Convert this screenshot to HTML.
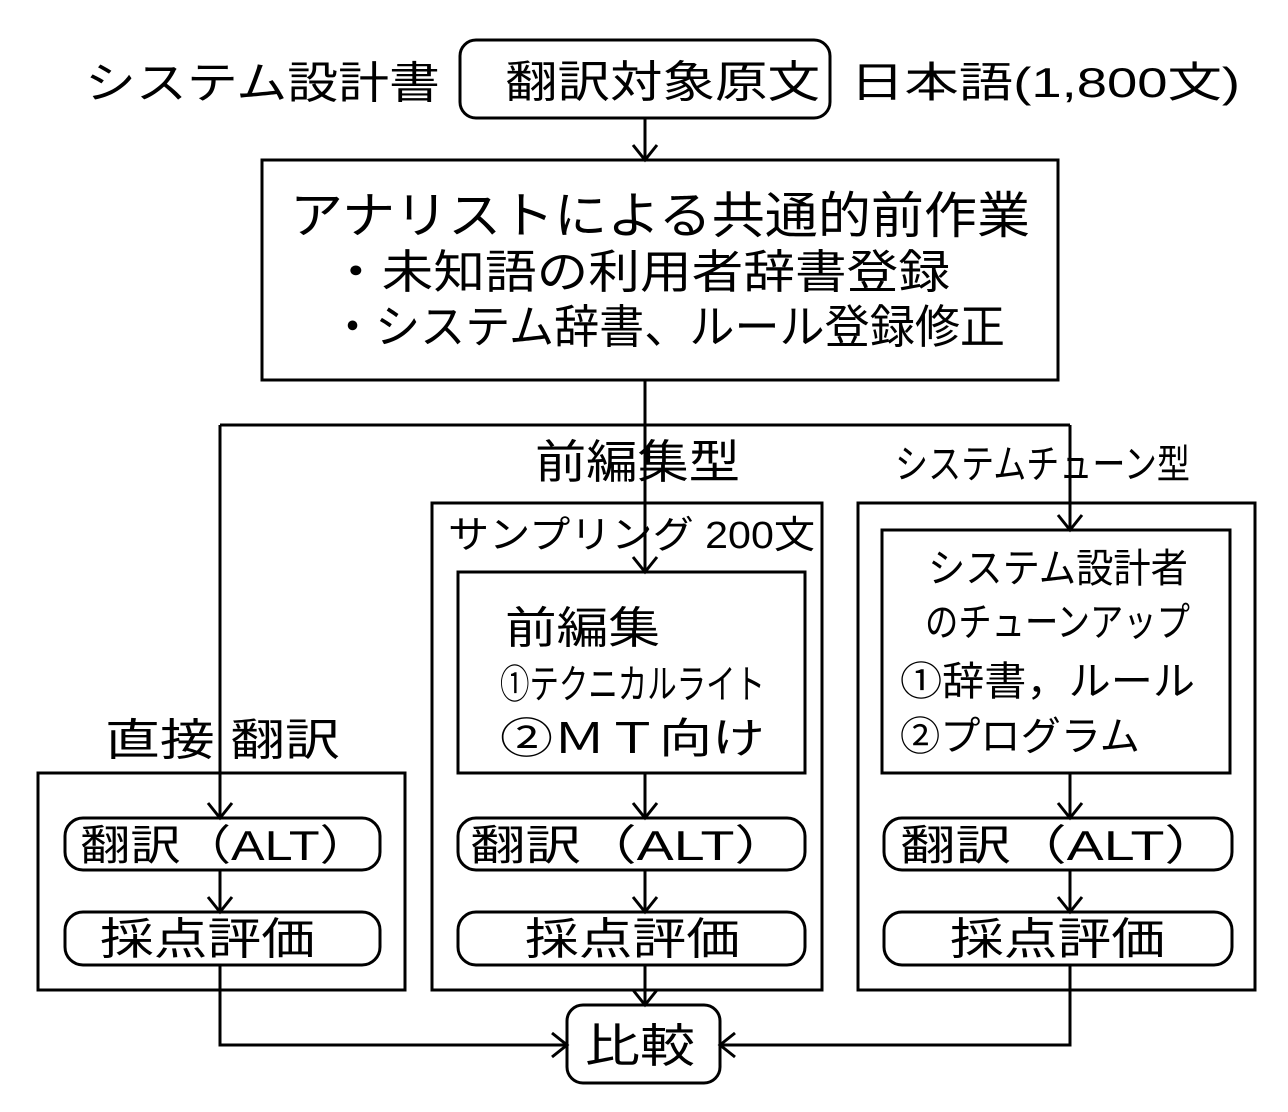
<!DOCTYPE html>
<html><head><meta charset="utf-8"><style>
html,body{margin:0;padding:0;background:#fff;}
svg{display:block}
text{font-family:"Liberation Sans","Noto Sans CJK JP",sans-serif;fill:#000;}
</style></head><body>
<svg width="1288" height="1112" viewBox="0 0 1288 1112" xmlns="http://www.w3.org/2000/svg">
<g fill="none" stroke="#000" stroke-width="3">
<rect x="460" y="40" width="370" height="78" rx="16"/>
<rect x="262" y="160" width="796" height="220"/>
<rect x="432" y="503" width="390" height="487"/>
<rect x="458" y="572" width="347" height="201"/>
<rect x="858" y="503" width="397" height="487"/>
<rect x="882" y="530" width="348" height="243"/>
<rect x="38" y="773" width="367" height="217"/>
<rect x="65" y="818" width="315" height="52" rx="18"/>
<rect x="65" y="912" width="315" height="53" rx="18"/>
<rect x="458" y="818" width="347" height="52" rx="18"/>
<rect x="458" y="912" width="347" height="53" rx="18"/>
<rect x="884" y="818" width="348" height="52" rx="18"/>
<rect x="884" y="912" width="348" height="53" rx="18"/>
<rect x="567" y="1005" width="153" height="78" rx="16"/>
<path d="M645 118V160M645 380V572M220 425H1070M220 425V818M1070 425V530"/>
<path d="M645 773V818M645 870V912M220 870V912M1070 773V818M1070 870V912"/>
<path d="M220 965V1045H567M1070 965V1045H720M645 965V1005"/>
<path d="M633 145L645 160L657 145"/>
<path d="M633 557L645 572L657 557"/>
<path d="M208 803L220 818L232 803"/>
<path d="M1058 515L1070 530L1082 515"/>
<path d="M633 803L645 818L657 803"/><path d="M633 897L645 912L657 897"/>
<path d="M208 897L220 912L232 897"/>
<path d="M1058 803L1070 818L1082 803"/><path d="M1058 897L1070 912L1082 897"/>
<path d="M633 990L645 1005L657 990"/>
<path d="M552 1033L567 1045L552 1057"/>
<path d="M735 1033L720 1045L735 1057"/>
</g>
<g lengthAdjust="spacingAndGlyphs">
<text x="85" y="98" font-size="44" textLength="355" lengthAdjust="spacingAndGlyphs">システム設計書</text>
<text x="505" y="97" font-size="44" textLength="315" lengthAdjust="spacingAndGlyphs">翻訳対象原文</text>
<text x="850" y="97" font-size="42" textLength="390" lengthAdjust="spacingAndGlyphs">日本語(1,800文)</text>
<text x="290" y="233" font-size="50" textLength="740" lengthAdjust="spacingAndGlyphs">アナリストによる共通的前作業</text>
<text x="330" y="288" font-size="46" textLength="620" lengthAdjust="spacingAndGlyphs">・未知語の利用者辞書登録</text>
<text x="330" y="343" font-size="46" textLength="675" lengthAdjust="spacingAndGlyphs">・システム辞書、ルール登録修正</text>
<text x="535" y="478" font-size="46" textLength="205" lengthAdjust="spacingAndGlyphs">前編集型</text>
<text x="895" y="478" font-size="40" textLength="295" lengthAdjust="spacingAndGlyphs">システムチューン型</text>
<text x="448" y="548" font-size="38" textLength="367" lengthAdjust="spacingAndGlyphs">サンプリング 200文</text>
<text x="505" y="643" font-size="44" textLength="155" lengthAdjust="spacingAndGlyphs">前編集</text>
<text x="500" y="698" font-size="40" textLength="265" lengthAdjust="spacingAndGlyphs">①テクニカルライト</text>
<text x="500" y="753" font-size="42" textLength="265" lengthAdjust="spacingAndGlyphs">②ＭＴ向け</text>
<text x="928" y="582" font-size="40" textLength="260" lengthAdjust="spacingAndGlyphs">システム設計者</text>
<text x="925" y="636" font-size="40" textLength="265" lengthAdjust="spacingAndGlyphs">のチューンアップ</text>
<text x="900" y="695" font-size="40" textLength="295" lengthAdjust="spacingAndGlyphs">①辞書，ルール</text>
<text x="900" y="750" font-size="40" textLength="240" lengthAdjust="spacingAndGlyphs">②プログラム</text>
<text x="105" y="755" font-size="44" textLength="235" lengthAdjust="spacingAndGlyphs">直接 翻訳</text>
<text x="80" y="860" font-size="42" textLength="290" lengthAdjust="spacingAndGlyphs">翻訳（ALT）</text>
<text x="100" y="954" font-size="44" textLength="215" lengthAdjust="spacingAndGlyphs">採点評価</text>
<text x="470" y="860" font-size="42" textLength="320" lengthAdjust="spacingAndGlyphs">翻訳（ALT）</text>
<text x="525" y="954" font-size="44" textLength="215" lengthAdjust="spacingAndGlyphs">採点評価</text>
<text x="900" y="860" font-size="42" textLength="320" lengthAdjust="spacingAndGlyphs">翻訳（ALT）</text>
<text x="950" y="954" font-size="44" textLength="215" lengthAdjust="spacingAndGlyphs">採点評価</text>
<text x="585" y="1062" font-size="46" textLength="110" lengthAdjust="spacingAndGlyphs">比較</text>
</g>
</svg>
</body></html>
